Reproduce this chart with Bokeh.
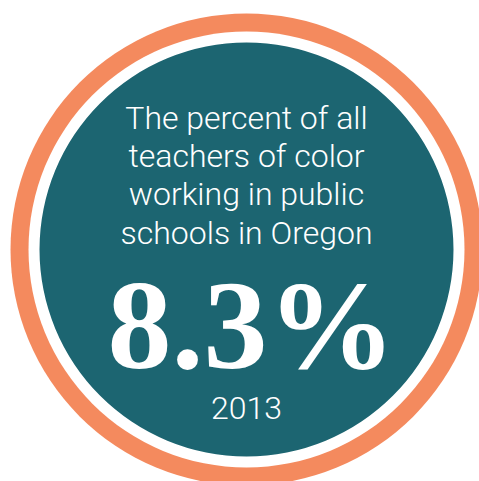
from bokeh.plotting import figure
from bokeh.models import Range1d
from bokeh.embed import file_html
from bokeh.resources import INLINE
from bokeh.core.properties import value

# content
caption_lines = ["The percent of all", "teachers of color", "working in public", "schools in Oregon"]
headline_value = ["8.3%"]
year_label = ["2013"]

ORANGE = "#f48a5e"
TEAL = "#1c6571"

W, H = 479, 481
p = figure(width=W, height=H, output_backend="svg", toolbar_location=None,
           x_range=Range1d(0, W), y_range=Range1d(H, 0),
           min_border=0, outline_line_color=None, background_fill_color="white",
           border_fill_color="white")
p.axis.visible = False
p.grid.visible = False

cx, cy = 246, 249
p.circle(x=[cx], y=[cy], radius=236, fill_color=ORANGE, line_color=None)
p.circle(x=[cx], y=[cy], radius=218, fill_color="white", line_color=None)
p.circle(x=[cx], y=[cy], radius=207, fill_color=TEAL, line_color=None)

cap_y = [117, 155, 193, 232]
p.text(x=[cx] * len(caption_lines), y=cap_y, text=caption_lines,
       text_font=value("Roboto Light, Roboto"), text_font_size="32px",
       text_color="white", text_align="center", text_baseline="alphabetic")

p.text(x=[251], y=[324], text=headline_value,
       text_font=value("Liberation Serif"), text_font_style="bold", text_font_size="128px",
       text_color="white", text_align="center", text_baseline="alphabetic")

p.text(x=[cx], y=[407], text=year_label,
       text_font=value("Roboto Light, Roboto"), text_font_size="32px",
       text_color="white", text_align="center", text_baseline="alphabetic")

open("out.html", "w").write(file_html(p, INLINE))
